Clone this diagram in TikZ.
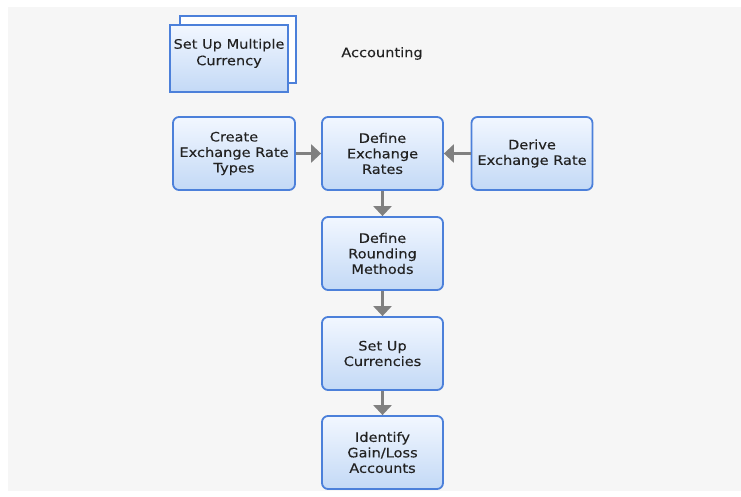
\documentclass[tikz,border=0pt]{standalone}
\usepackage{fontspec}
\setmainfont{DejaVu Sans}[FakeStretch=1.12,FakeBold=0.2]
\usetikzlibrary{arrows.meta}
\definecolor{bordblue}{HTML}{4C80DA}
\definecolor{topfill}{HTML}{F2F7FF}
\definecolor{botfill}{HTML}{C3D9F6}
\definecolor{arrgray}{HTML}{808080}
\definecolor{txt}{HTML}{222222}
\definecolor{panel}{HTML}{F6F6F6}
\tikzset{
  stepbox/.style={draw=bordblue, line width=1.8pt, rounded corners=6pt,
    top color=topfill, bottom color=botfill, minimum width=121pt,
    minimum height=73pt, align=center, text=txt, inner sep=2pt,
    font=\fontsize{13}{15.5}\selectfont},
  docback/.style={draw=bordblue, line width=1.8pt, fill=white,
    minimum width=116pt, minimum height=67pt},
  docfront/.style={draw=bordblue, line width=1.8pt, top color=topfill,
    bottom color=botfill, minimum width=118pt, minimum height=67pt,
    align=center, text=txt, inner sep=0pt, text depth=13pt,
    font=\fontsize{13}{16.5}\selectfont},
  flow/.style={draw=arrgray, line width=3pt,
    -{Triangle[length=10pt,width=18pt]}}
}
\begin{document}
\begin{tikzpicture}[x=1pt,y=-1pt]
\fill[white] (0,0) rectangle (741,497);
\fill[panel] (8,7) rectangle (741,491);
\useasboundingbox (0,0) rectangle (741,497);
\node[docback] (mback) at (238,49.5) {};
\node[docfront] (multi) at (229,58.5) {Set Up Multiple\\Currency};
\node[text=txt, font=\fontsize{13}{15.5}\selectfont] (acc) at (382,53.5) {Accounting};
\node[stepbox, minimum width=122pt] (create) at (234,153.5) {Create\\Exchange Rate\\Types};
\node[stepbox] (defx) at (382.5,153.5) {Define\\Exchange\\Rates};
\node[stepbox] (derive) at (532,153.5) {Derive\\Exchange Rate};
\node[stepbox] (round) at (382.5,253.5) {Define\\Rounding\\Methods};
\node[stepbox] (cur) at (382.5,353.5) {Set Up\\Currencies};
\node[stepbox] (gain) at (382.5,452.5) {Identify\\Gain/Loss\\Accounts};
\draw[flow] (create) -- (defx);
\draw[flow] (derive) -- (defx);
\draw[flow] (defx) -- (round);
\draw[flow] (round) -- (cur);
\draw[flow] (cur) -- (gain);
\end{tikzpicture}
\end{document}
